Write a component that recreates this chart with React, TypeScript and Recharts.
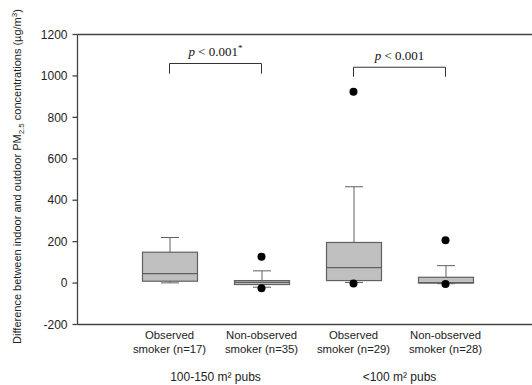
import React from 'react';
import { ComposedChart, Bar, Scatter, XAxis, YAxis, ReferenceLine } from 'recharts';

const categories = ['obs-100-150', 'non-100-150', 'obs-lt100', 'non-lt100'];
const labelLine1 = ['Observed', 'Non-observed', 'Observed', 'Non-observed'];
const labelLine2 = ['smoker (n=17)', 'smoker (n=35)', 'smoker (n=29)', 'smoker (n=28)'];
const groupLabels = ['100-150 m\u00B2 pubs', '<100 m\u00B2 pubs'];

const whiskerLow = [1, -20, 3, -3];
const q1 = [9, -7, 12, 0];
const median = [46, 3, 75, 2];
const q3 = [149, 12, 196, 28];
const whiskerHigh = [220, 59, 465, 84];
const outlierHigh = [null, 127, 924, 207];
const outlierLow = [null, -25, -2, -5];

const yTicks = [-200, 0, 200, 400, 600, 800, 1000, 1200];

const bracketFrom = [0, 2];
const bracketTo = [1, 3];
const bracketTop = [1060, 1042];
const bracketFoot = [1011, 996];
const bracketStar = [true, false];

const data = categories.map((c, i) => ({
  cat: c,
  whisker: [whiskerLow[i], whiskerHigh[i]],
  box: [q1[i], q3[i]],
  q1: q1[i],
  q3: q3[i],
  med: median[i],
  outHigh: outlierHigh[i],
  outLow: outlierLow[i],
}));

const SANS = '"Liberation Sans", Arial, sans-serif';
const SERIF = '"Liberation Serif", "Times New Roman", serif';
const LINE = '#606060';
const AXIS = '#444';

const WhiskerShape = (props: any) => {
  const { x, y, width, height } = props;
  const top = Math.min(y, y + height);
  const bottom = Math.max(y, y + height);
  const cx = x + width / 2;
  const cap = 9;
  return (
    <g>
      <line x1={cx} x2={cx} y1={top} y2={bottom} stroke={LINE} strokeWidth={1} />
      <line x1={cx - cap} x2={cx + cap} y1={top} y2={top} stroke={LINE} strokeWidth={1} />
      <line x1={cx - cap} x2={cx + cap} y1={bottom} y2={bottom} stroke={LINE} strokeWidth={1} />
    </g>
  );
};

const BoxShape = (props: any) => {
  const { x, y, width, height, payload } = props;
  const top = Math.min(y, y + height);
  const h = Math.abs(height);
  const span = payload.q3 - payload.q1;
  const my = span > 0 ? top + ((payload.q3 - payload.med) / span) * h : top;
  return (
    <g>
      <rect x={x} y={top} width={width} height={h} fill="#c0c0c0" stroke={LINE} strokeWidth={1.2} />
      <line x1={x} x2={x + width} y1={my} y2={my} stroke={LINE} strokeWidth={1.2} />
    </g>
  );
};

const DotShape = (props: any) => {
  const { cx, cy, payload, field } = props;
  const v = payload ? payload[field] : null;
  if (v === null || v === undefined || !isFinite(cx) || !isFinite(cy)) return <g />;
  return <circle cx={cx} cy={cy} r={4} fill="#000" />;
};

const XTick = (props: any) => {
  const { x, y, payload } = props;
  const i = payload.index;
  return (
    <g fontFamily={SANS} fontSize={11.3} fill="#222">
      <text x={x} y={y + 6.5} textAnchor="middle" fill="#222">{labelLine1[i]}</text>
      <text x={x} y={y + 20} textAnchor="middle" fill="#222">{labelLine2[i]}</text>
      {i % 2 === 0 && (
        <text x={x + payload.offset} y={y + 48.5} textAnchor="middle" fontSize={12} fill="#222">
          {groupLabels[i / 2]}
        </text>
      )}
    </g>
  );
};

const YLabel = () => (
  <text
    transform="rotate(-90)"
    x={-176.5}
    y={20.5}
    textAnchor="middle"
    fontFamily={SANS}
    fontSize={11}
    fill="#222"
  >
    Difference between indoor and outdoor PM
    <tspan fontSize={8} dy={3}>2.5</tspan>
    <tspan dy={-3}> concentrations (µg/m</tspan>
    <tspan fontSize={8} dy={-4}>3</tspan>
    <tspan dy={4}>)</tspan>
  </text>
);

const PLabel = (props: any) => {
  const { viewBox, star } = props;
  if (!viewBox) return null;
  const cx = viewBox.x + viewBox.width / 2;
  const by = viewBox.y - 7.5;
  return (
    <text x={cx} y={by} textAnchor="middle" fontFamily={SERIF} fontSize={13} fill="#111">
      <tspan fontStyle="italic">p</tspan>
      <tspan> &lt; 0.001</tspan>
      {star && <tspan fontSize={9} dy={-5}>*</tspan>}
    </text>
  );
};

export default function App() {
  return (
    <div style={{ position: 'absolute', left: 0, top: 0, width: 532, height: 385, overflow: 'hidden', background: '#fff' }}>
      <ComposedChart
        width={532}
        height={385}
        data={data}
        margin={{ top: 34.5, right: 0, bottom: 0, left: 0 }}
        barGap={-55}
        barCategoryGap={0}
      >
        <XAxis
          dataKey="cat"
          type="category"
          interval={0}
          height={60.5}
          padding={{ left: 46, right: 40.5 }}
          axisLine={{ stroke: AXIS, strokeWidth: 1.3 }}
          tickLine={false}
          tick={<XTick />}
        />
        <YAxis
          type="number"
          domain={[-200, 1200]}
          ticks={yTicks}
          interval={0}
          width={77.5}
          tickSize={5}
          tickMargin={5}
          axisLine={{ stroke: AXIS, strokeWidth: 1.3 }}
          tickLine={{ stroke: AXIS, strokeWidth: 1.3 }}
          tick={{ fontSize: 12, fontFamily: SANS, fill: '#222' }}
          label={<YLabel />}
        />
        <ReferenceLine y={1200} stroke={AXIS} strokeWidth={1.3} />
        <Bar dataKey="whisker" barSize={55} shape={<WhiskerShape />} isAnimationActive={false} />
        <Bar dataKey="box" barSize={55} shape={<BoxShape />} isAnimationActive={false} />
        <Scatter dataKey="outHigh" shape={<DotShape field="outHigh" />} isAnimationActive={false} />
        <Scatter dataKey="outLow" shape={<DotShape field="outLow" />} isAnimationActive={false} />
        {bracketFrom.map((f, k) => (
          <ReferenceLine
            key={'h' + k}
            segment={[
              { x: categories[f], y: bracketTop[k] },
              { x: categories[bracketTo[k]], y: bracketTop[k] },
            ]}
            stroke="#333"
            strokeWidth={1}
            label={<PLabel star={bracketStar[k]} />}
          />
        ))}
        {bracketFrom.map((f, k) => (
          <ReferenceLine
            key={'l' + k}
            segment={[
              { x: categories[f], y: bracketTop[k] },
              { x: categories[f], y: bracketFoot[k] },
            ]}
            stroke="#333"
            strokeWidth={1}
          />
        ))}
        {bracketTo.map((t, k) => (
          <ReferenceLine
            key={'r' + k}
            segment={[
              { x: categories[t], y: bracketTop[k] },
              { x: categories[t], y: bracketFoot[k] },
            ]}
            stroke="#333"
            strokeWidth={1}
          />
        ))}
      </ComposedChart>
    </div>
  );
}
